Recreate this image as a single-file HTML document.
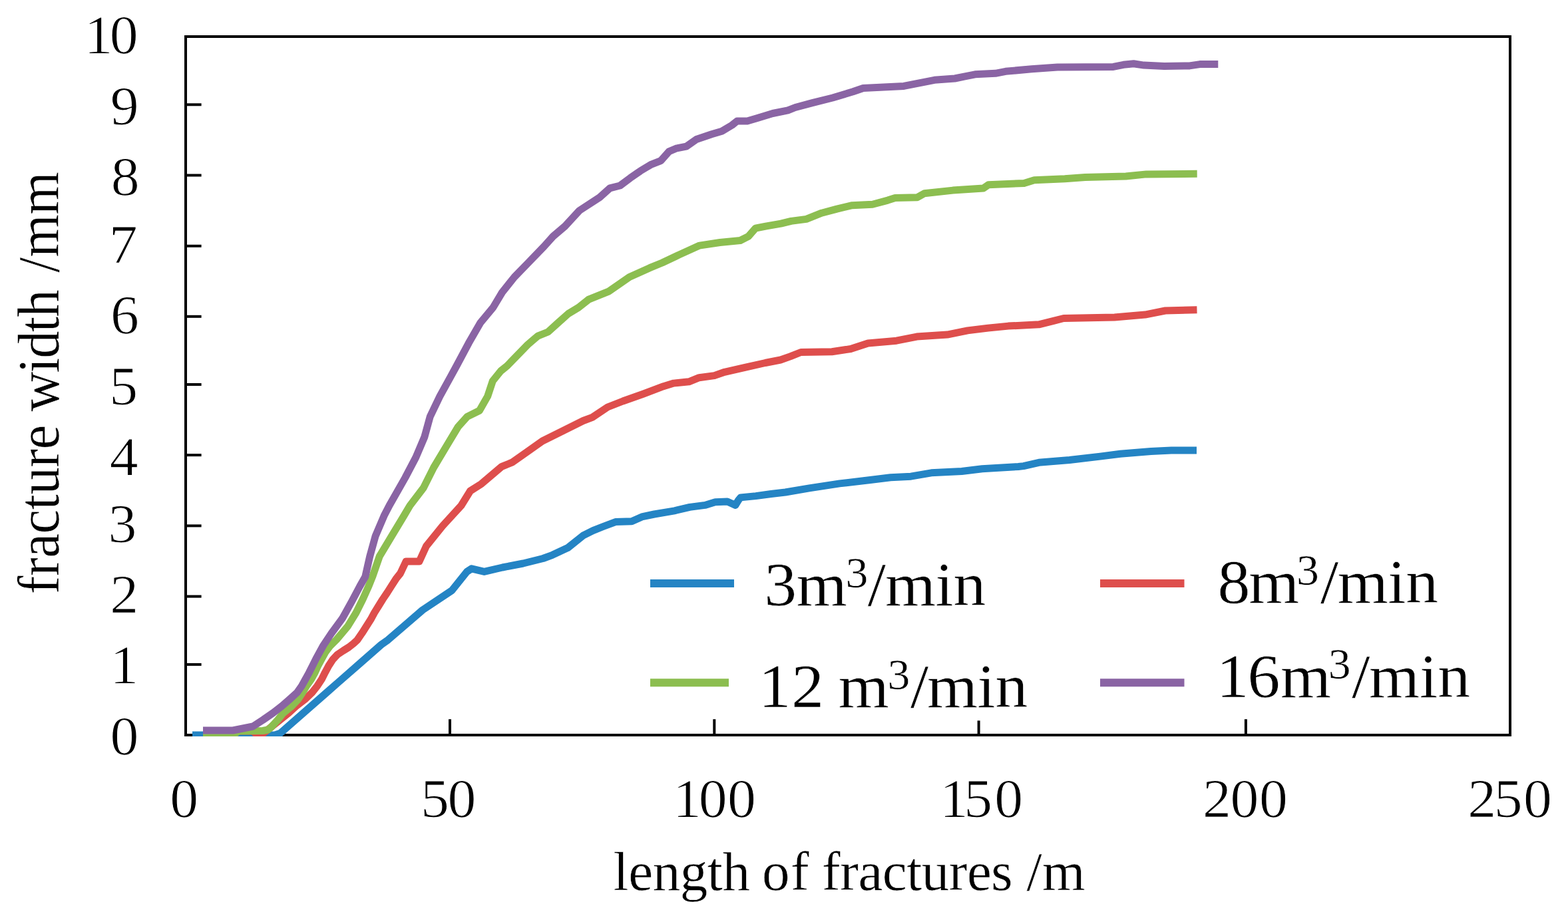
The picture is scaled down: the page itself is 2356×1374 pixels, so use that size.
<!DOCTYPE html>
<html lang="en"><head><meta charset="utf-8"><title>Fracture width versus length of fractures</title>
<style>html,body{margin:0;padding:0;background:#fff;overflow:hidden}svg{display:block}text{font-family:"Liberation Serif","Times New Roman",serif;fill:#000;stroke:#fff;stroke-width:0.5px;stroke-linejoin:round}.t{stroke-width:1px}</style></head><body>
<svg width="2356" height="1374" viewBox="0 0 2356 1374">
<rect x="0" y="0" width="2356" height="1374" fill="#fff"/>
<rect x="279" y="55" width="1990" height="1050" stroke="#000" stroke-width="4" fill="none" shape-rendering="crispEdges"/>
<g stroke="#000" stroke-width="4" fill="none">
<line x1="280" y1="157.3" x2="302.6" y2="157.3"/>
<line x1="280" y1="263.5" x2="302.6" y2="263.5"/>
<line x1="280" y1="369.8" x2="302.6" y2="369.8"/>
<line x1="280" y1="475.8" x2="302.6" y2="475.8"/>
<line x1="280" y1="578.0" x2="302.6" y2="578.0"/>
<line x1="280" y1="684.1" x2="302.6" y2="684.1"/>
<line x1="280" y1="790.4" x2="302.6" y2="790.4"/>
<line x1="280" y1="896.6" x2="302.6" y2="896.6"/>
<line x1="280" y1="998.9" x2="302.6" y2="998.9"/>
<line x1="676.0" y1="1081.2" x2="676.0" y2="1104"/>
<line x1="1073.3" y1="1081.2" x2="1073.3" y2="1104"/>
<line x1="1470.6" y1="1083.3" x2="1470.6" y2="1104"/>
<line x1="1871.9" y1="1081.2" x2="1871.9" y2="1104"/>
</g>
<defs><clipPath id="plot"><rect x="281" y="57" width="1986" height="1050"/></clipPath></defs>
<g fill="none" stroke-width="11" stroke-linejoin="round" stroke-linecap="butt" clip-path="url(#plot)">
<path stroke="#2484C4" d="M289.0,1105.0 L413.0,1105.0 L421.0,1102.3 L491.5,1040.5 L540.0,998.0 L573.0,969.0 L583.0,961.9 L635.0,917.0 L679.0,887.6 L701.6,859.4 L708.5,854.8 L727.6,859.4 L755.0,853.0 L786.0,847.0 L816.0,839.5 L830.0,834.3 L853.0,823.6 L876.0,805.2 L891.0,797.6 L906.4,791.5 L924.8,784.6 L949.2,783.8 L964.5,776.9 L983.0,773.0 L1013.4,767.8 L1036.4,762.4 L1059.3,759.4 L1074.6,754.8 L1092.9,754.0 L1105.0,759.4 L1109.7,751.7 L1112.8,747.9 L1135.7,745.6 L1158.6,742.5 L1180.0,740.0 L1215.9,733.8 L1261.7,726.9 L1307.6,721.5 L1338.1,717.7 L1368.7,716.2 L1399.3,710.8 L1445.1,708.5 L1475.7,704.7 L1530.0,701.5 L1538.0,700.6 L1561.0,695.3 L1607.0,691.5 L1653.0,686.1 L1683.4,682.3 L1729.3,678.5 L1760.0,676.9 L1798.0,676.9"/>
<path stroke="#DE4E4C" d="M305.0,1099.0 L380.0,1099.0 L386.0,1104.5 L393.0,1104.5 L433.5,1071.9 L444.7,1061.7 L458.0,1051.5 L468.7,1041.3 L476.8,1031.1 L483.4,1021.0 L488.5,1010.8 L494.0,1000.6 L500.0,991.5 L507.0,984.0 L516.0,978.0 L524.0,973.0 L531.0,967.5 L537.0,961.9 L544.0,951.7 L550.5,941.5 L557.0,931.3 L562.5,921.1 L568.5,911.5 L575.0,901.0 L582.0,890.6 L588.5,880.4 L595.0,870.2 L601.5,862.0 L610.0,844.0 L630.0,844.0 L640.5,821.0 L665.0,790.6 L693.0,760.0 L706.6,738.0 L723.4,727.3 L754.0,701.3 L769.3,695.2 L784.6,684.5 L815.0,663.0 L845.7,647.8 L876.3,632.5 L890.0,627.3 L913.0,612.0 L936.0,603.0 L966.4,592.2 L997.0,580.7 L1012.3,576.1 L1035.2,573.8 L1050.5,567.7 L1073.4,564.6 L1088.7,559.3 L1119.3,552.4 L1149.9,545.5 L1172.8,541.0 L1188.0,535.6 L1203.4,529.5 L1250.0,528.7 L1278.2,524.5 L1304.2,516.0 L1347.0,512.2 L1377.6,506.1 L1423.4,503.1 L1454.0,496.9 L1484.6,493.1 L1515.0,490.1 L1561.0,487.8 L1583.0,482.3 L1598.2,478.5 L1674.6,476.9 L1720.5,473.1 L1751.0,467.0 L1798.5,465.8"/>
<path stroke="#8CBE50" d="M305.0,1105.0 L351.0,1105.0 L358.0,1099.0 L395.0,1098.5 L403.0,1097.0 L408.2,1092.3 L417.4,1082.1 L425.6,1071.9 L438.1,1061.7 L447.8,1051.5 L454.5,1041.3 L460.6,1031.1 L467.7,1021.0 L473.3,1010.8 L477.9,1000.6 L483.5,990.4 L489.1,980.2 L496.0,971.0 L505.3,961.9 L522.5,941.5 L535.0,921.1 L545.0,901.0 L554.0,881.0 L560.0,866.0 L570.2,836.4 L588.5,805.9 L606.9,775.3 L616.0,760.0 L636.3,733.4 L651.6,702.9 L669.9,672.3 L688.3,641.7 L702.0,626.4 L720.4,617.3 L732.6,595.9 L740.2,572.9 L752.5,557.6 L762.0,550.0 L792.9,518.1 L808.1,505.1 L823.4,499.0 L838.7,485.2 L854.0,471.5 L869.3,462.3 L884.6,450.1 L915.1,437.8 L945.7,416.4 L976.3,402.7 L995.0,395.0 L1020.6,382.9 L1051.1,369.1 L1081.7,364.5 L1112.3,361.5 L1124.5,355.3 L1135.2,343.1 L1150.5,340.1 L1173.4,336.2 L1188.7,332.4 L1211.6,329.4 L1234.6,320.2 L1257.5,314.1 L1280.4,308.7 L1311.0,307.2 L1333.9,301.1 L1345.0,297.5 L1378.2,296.8 L1388.9,290.7 L1431.7,286.1 L1477.6,283.1 L1485.2,277.7 L1538.7,275.4 L1554.0,270.8 L1599.9,268.8 L1630.5,266.5 L1691.7,265.0 L1722.3,261.9 L1798.7,261.3"/>
<path stroke="#8A64A4" d="M305.0,1098.0 L350.0,1098.0 L380.0,1092.0 L395.3,1082.1 L410.1,1071.9 L423.3,1061.7 L435.0,1051.5 L446.2,1041.3 L453.4,1031.1 L459.0,1021.0 L464.6,1010.8 L469.7,1000.6 L474.8,990.4 L480.4,980.2 L486.0,970.0 L498.0,952.0 L514.3,929.8 L528.6,904.1 L540.6,881.5 L548.8,867.0 L555.7,836.4 L564.1,805.9 L577.1,775.3 L585.0,760.0 L608.8,718.1 L624.8,687.6 L637.8,657.0 L646.2,626.4 L660.8,595.9 L677.6,565.3 L686.0,550.0 L704.2,515.8 L721.8,485.2 L740.9,462.3 L754.6,439.4 L773.0,416.4 L795.2,393.5 L817.3,370.6 L831.1,355.3 L849.0,340.0 L870.6,316.5 L901.1,296.6 L916.4,282.9 L931.7,279.0 L947.0,267.6 L962.3,256.9 L977.6,247.7 L992.9,241.6 L1005.1,227.8 L1015.8,223.2 L1031.1,220.2 L1046.4,209.5 L1069.3,201.8 L1084.6,197.3 L1099.9,188.1 L1107.5,182.0 L1122.8,182.0 L1138.1,177.4 L1161.0,170.5 L1183.9,165.9 L1195.0,161.5 L1220.6,154.6 L1251.1,147.0 L1281.7,137.8 L1297.0,132.5 L1327.6,131.0 L1358.1,129.4 L1388.7,123.3 L1404.0,120.3 L1434.6,118.0 L1449.9,114.9 L1465.1,111.8 L1495.7,110.3 L1511.0,107.3 L1550.0,103.8 L1588.8,101.1 L1672.9,100.4 L1688.1,97.3 L1703.4,95.8 L1718.7,98.1 L1749.3,99.6 L1787.5,98.9 L1802.8,96.6 L1830.3,96.6"/>
</g>
<g stroke-width="12" fill="none">
<line x1="977" y1="877" x2="1103" y2="877" stroke="#2484C4"/>
<line x1="977" y1="1026.2" x2="1095" y2="1026.2" stroke="#8CBE50"/>
<line x1="1653" y1="877" x2="1779.5" y2="877" stroke="#DE4E4C"/>
<line x1="1653" y1="1026.2" x2="1779.5" y2="1026.2" stroke="#8A64A4"/>
</g>
<text class="t" transform="translate(0,80.1) scale(1.04,1)" font-size="82.5" y="0" x="121.74 158.46" xml:space="preserve">10</text>
<text class="t" transform="translate(0,186.5) scale(1.04,1)" font-size="82.5" y="0" x="159.4" xml:space="preserve">9</text>
<text class="t" transform="translate(0,292.5) scale(1.04,1)" font-size="82.5" y="0" x="160.38" xml:space="preserve">8</text>
<text class="t" transform="translate(0,394.9) scale(1.04,1)" font-size="82.5" y="0" x="157.45" xml:space="preserve">7</text>
<text class="t" transform="translate(0,501.3) scale(1.04,1)" font-size="82.5" y="0" x="159.62" xml:space="preserve">6</text>
<text class="t" transform="translate(0,607.6) scale(1.04,1)" font-size="82.5" y="0" x="158.02" xml:space="preserve">5</text>
<text class="t" transform="translate(0,713.9) scale(1.04,1)" font-size="82.5" y="0" x="158.35" xml:space="preserve">4</text>
<text class="t" transform="translate(0,815.2) scale(1.04,1)" font-size="82.5" y="0" x="156.37" xml:space="preserve">3</text>
<text class="t" transform="translate(0,921.1) scale(1.04,1)" font-size="82.5" y="0" x="158.83" xml:space="preserve">2</text>
<text class="t" transform="translate(0,1027.4) scale(1.04,1)" font-size="82.5" y="0" x="158.81" xml:space="preserve">1</text>
<text class="t" transform="translate(0,1134) scale(1.04,1)" font-size="82.5" y="0" x="159.13" xml:space="preserve">0</text>
<text class="t" transform="translate(0,1228.3) scale(1.04,1)" font-size="82.5" y="0" x="245.48" xml:space="preserve">0</text>
<text class="t" transform="translate(0,1228.3) scale(1.04,1)" font-size="82.5" y="0" x="607.73 646.54" xml:space="preserve">50</text>
<text class="t" transform="translate(0,1228.3) scale(1.04,1)" font-size="82.5" y="0" x="972.08 1009.42 1050.87" xml:space="preserve">100</text>
<text class="t" transform="translate(0,1228.3) scale(1.04,1)" font-size="82.5" y="0" x="1357.75 1392.49 1436.88" xml:space="preserve">150</text>
<text class="t" transform="translate(0,1228.3) scale(1.04,1)" font-size="82.5" y="0" x="1737.53 1777.36 1819.23" xml:space="preserve">200</text>
<text class="t" transform="translate(0,1228.3) scale(1.04,1)" font-size="82.5" y="0" x="2120.46 2158.36 2201.06" xml:space="preserve">250</text>
<text transform="translate(0,1338)" font-size="83" y="0" x="921.44 944.23 980.64 1021.65 1062.65 1085.45 1126.95 1144.95 1188 1215.65 1235.01 1262.26 1289.5 1325.82 1362.13 1384.87 1425.77 1453.02 1489.34 1521.64 1542.5 1565.92" xml:space="preserve">length of fractures /m</text>
<text transform="translate(87.5,0) rotate(-90) scale(1,1.07)" font-size="83" y="0" x="-893.19 -865.97 -838.76 -802.49 -766.21 -743.5 -702.65 -675.43 -638.59 -618.4 -560.87 -538.73 -498.89 -476.75 -435.25 -409.8 -386.87 -322.68" xml:space="preserve">fracture width /mm</text>
<text transform="translate(0,910) scale(1.05,1)" font-size="93" y="0" xml:space="preserve"><tspan x="1093.67 1139.68">3m</tspan><tspan x="1210.08" dy="-27.5" font-size="64.5">3</tspan><tspan x="1241.74 1266.71 1338.56 1364.23" dy="27.5">/min</tspan></text>
<text transform="translate(0,1063.4) scale(1.05,1)" font-size="93" y="0" xml:space="preserve"><tspan x="1085.4 1132.55 1179.05 1199.68">12 m</tspan><tspan x="1270.03" dy="-27.5" font-size="64.5">3</tspan><tspan x="1302.97 1326.71 1398.56 1424.23" dy="27.5">/min</tspan></text>
<text transform="translate(0,906) scale(1.05,1)" font-size="93" y="0" xml:space="preserve"><tspan x="1742.37 1787.02">8m</tspan><tspan x="1855.27" dy="-27.5" font-size="64.5">3</tspan><tspan x="1889.45 1914.04 1985.89 2011.56" dy="27.5">/min</tspan></text>
<text transform="translate(0,1047.8) scale(1.05,1)" font-size="93" y="0" xml:space="preserve"><tspan x="1740.69 1785.34 1832.49">16m</tspan><tspan x="1900.7" dy="-27.5" font-size="64.5">3</tspan><tspan x="1934.5 1959.09 2031.5 2057.37" dy="27.5">/min</tspan></text>
</svg></body></html>
